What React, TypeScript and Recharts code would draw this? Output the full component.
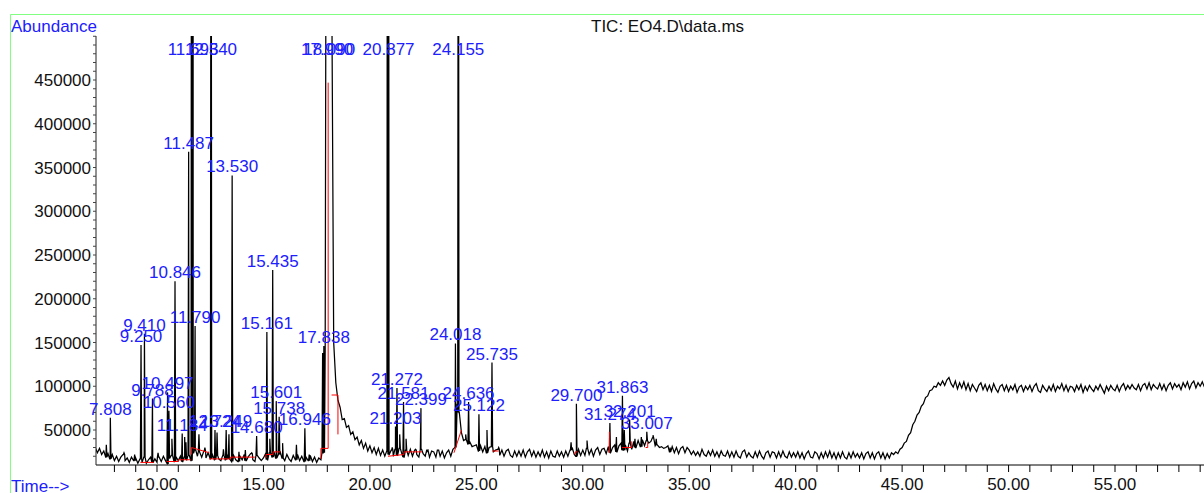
import React from "react";
import { ComposedChart, Line, XAxis, YAxis, ReferenceDot } from "recharts";

const W = 1204;
const H = 493;
const FONT = "'Liberation Sans', Arial, sans-serif";
const BLUE = "#2020ff";

// TIC baseline, thousands of counts, one sample every 0.1 min
const STEP = 0.1;
const base07Start = 7.1;
const base07 = [
  30, 24, 29, 22, 26, 19, 23,
  17, 22, 15, 20, 14, 19, 22, 15, 18, 13, 19, 15,
  18, 12, 17, 13, 19, 12, 16, 19, 13, 17,
  13, 19, 14, 20, 15, 12, 18, 21, 14, 19,
  15, 20, 14, 19, 16, 21, 15, 24, 27, 20,
  25, 19, 26, 18, 24, 17, 22, 16, 21, 17,
  15, 21, 16, 22, 17, 14, 21, 16, 14, 20,
  16, 22, 15, 20, 23, 16, 14, 21, 18, 15,
  18, 23, 16, 24, 19, 25, 18, 22, 24, 18,
  15, 22, 17, 14, 21, 16, 22, 15, 20, 14,
  19, 15, 21, 14, 19, 13, 18, 16, 24, 140,
];
const tail18Start = 18.0;
const tail18 = [
  900, 800, 600, 150, 104, 84, 76, 62, 63, 53,
  55, 45, 48, 39, 42, 33, 38, 29, 35, 26,
  32, 24, 30, 22, 29, 21, 27, 20, 26, 22,
];
const base21Start = 21.0;
const base21 = [
  27, 20, 28, 21, 29, 23, 19, 27, 21, 28,
  20, 27, 22, 19, 28, 23, 20, 27, 19, 26,
  25, 19, 27, 20, 26, 18, 24, 27, 20, 28,
  30, 80, 70, 47, 38, 39, 34, 36, 31, 32,
  33, 26, 32, 25, 31, 24, 30, 31, 25, 27,
  28, 21, 27, 20, 26, 28, 21, 19, 26, 20,
  26, 20, 27, 19, 25, 28, 20, 26, 19, 25,
  20, 27, 19, 25, 18, 26, 20, 19, 26, 20,
  25, 19, 26, 20, 27, 30, 22, 20, 28, 21,
  27, 21, 29, 22, 28, 20, 27, 30, 22, 28,
  29, 23, 31, 24, 30, 33, 25, 32, 35, 27,
  33, 26, 35, 28, 37, 30, 38, 31, 39, 32,
  38, 35, 37, 41, 32, 33, 30, 31, 29, 30,
  32, 25, 31, 24, 30, 23, 29, 31, 24, 30,
  27, 22, 26, 21, 25, 20, 28, 22, 20, 26,
  21, 27, 20, 25, 19, 26, 21, 20, 26, 19,
  25, 19, 26, 20, 18, 25, 27, 19, 24, 20,
  18, 25, 19, 26, 20, 17, 24, 26, 19, 25,
  24, 18, 25, 19, 26, 20, 18, 25, 19, 24,
  19, 25, 18, 24, 17, 23, 26, 19, 18, 25,
  23, 17, 24, 18, 25, 19, 26, 18, 24, 17,
  24, 18, 25, 19, 17, 24, 18, 25, 19, 23,
  18, 24, 17, 23, 25, 18, 24, 17, 23, 25,
  18, 24, 17, 23, 18, 24, 22, 25, 23, 28,
];
const plateau45Start = 45.0;
const plateau45 = [
  30, 35, 37, 44, 47, 56, 60, 67, 70, 77,
  80, 87, 89, 95, 96, 100, 99, 104, 101, 106,
  101, 107, 110, 103, 99, 106, 97, 104, 98, 105,
  96, 103, 95, 102, 98, 94, 101, 104, 96, 102,
  95, 101, 94, 103, 97, 93, 100, 102, 95, 101,
  94, 100, 96, 102, 93, 99, 101, 94, 100, 96,
  101, 94, 100, 103, 95, 93, 101, 97, 94, 100,
  95, 102, 94, 100, 97, 103, 95, 101, 94, 100,
  99, 94, 101, 96, 102, 93, 100, 95, 101, 97,
  94, 100, 96, 102, 97, 92, 100, 95, 101, 97,
  95, 101, 94, 100, 103, 96, 101, 97, 102, 98,
  96, 102, 95, 101, 103, 97, 104, 96, 102, 99,
  97, 103, 96, 102, 95, 101, 104, 97, 103, 99,
  102, 96, 104, 99, 105, 97, 103, 106, 98, 104,
  100, 105, 99,
];

// labelled peaks: retention time (min) and apex (thousands)
const peakTimes = [
  7.808, 9.25, 9.41, 9.788, 10.497, 10.56, 10.846, 11.184, 11.487, 11.693,
  11.79, 12.54, 12.724, 13.249, 13.53, 14.68, 15.161, 15.435, 15.601, 15.738,
  16.946, 17.838, 17.99, 18.09, 20.877, 21.203, 21.272, 21.581, 22.399, 24.018,
  24.155, 24.636, 25.122, 25.735, 29.7, 31.274, 31.863, 32.201, 33.007,
];
const peakHeights = [
  64, 147, 160, 86, 93, 72, 220, 46, 368, 1000,
  169, 1000, 50, 50, 341, 43, 162, 233, 83, 65,
  52, 146, 1200, 1200, 1000, 54, 98, 82, 75, 149,
  1000, 82, 68, 127, 80, 58, 89, 62, 48,
];

// small unlabelled peaks
const minorTimes = [
  7.62, 8.45, 8.95, 10.05, 10.7, 11.3, 11.36, 11.62, 11.97, 12.25,
  12.82, 13.12, 13.38, 13.85, 14.15, 14.45, 15.3, 15.9, 16.55, 17.15,
  17.78, 20.82, 21.05, 21.4, 21.7, 22.15, 22.7, 23.2, 24.5, 25.5,
  26.05, 29.45, 30.2, 31.58, 31.95, 32.45, 32.75, 33.3, 33.45, 34.1,
];
const minorHeights = [
  33, 24, 22, 24, 40, 42, 36, 900, 45, 30,
  47, 28, 45, 25, 27, 24, 40, 35, 33, 22,
  138, 800, 30, 45, 40, 28, 26, 27, 45, 50,
  30, 36, 38, 42, 50, 40, 42, 44, 40, 30,
];

// red integration baselines, [time, thousands]
const redMarks: [number, number][][] = [
  [[9.22, 13], [9.85, 13]],
  [[10.45, 14], [11.0, 14], [11.0, 16], [11.58, 16]],
  [[11.62, 22], [11.62, 30], [12.45, 24]],
  [[12.45, 17], [13.45, 17], [13.45, 19], [14.6, 19]],
  [[15.12, 18], [15.12, 22], [15.45, 22], [15.45, 25], [15.8, 25]],
  [[17.7, 17], [17.7, 29], [18.04, 29], [18.04, 447]],
  [[18.2, 90], [18.5, 90], [18.5, 45]],
  [[20.85, 20], [21.6, 22], [21.6, 25], [22.45, 25]],
  [[23.95, 24], [24.3, 50]],
  [[25.75, 26], [26.05, 26]],
  [[29.65, 22], [29.65, 25], [29.75, 25]],
  [[31.25, 24], [31.25, 48]],
  [[31.85, 30], [32.3, 30], [32.3, 37]],
  [[32.95, 30], [33.05, 30], [33.05, 36]],
];

const xTicks = [
  8, 9, 10, 11, 12, 13, 14, 15, 16, 17, 18, 19, 20, 21, 22, 23, 24, 25, 26, 27,
  28, 29, 30, 31, 32, 33, 34, 35, 36, 37, 38, 39, 40, 41, 42, 43, 44, 45, 46, 47,
  48, 49, 50, 51, 52, 53, 54, 55, 56, 57, 58, 59,
];
const xLabelled = [10, 15, 20, 25, 30, 35, 40, 45, 50, 55];
const yTicks = [
  20000, 30000, 40000, 50000, 60000, 70000, 80000, 90000, 100000, 110000,
  120000, 130000, 140000, 150000, 160000, 170000, 180000, 190000, 200000, 210000,
  220000, 230000, 240000, 250000, 260000, 270000, 280000, 290000, 300000, 310000,
  320000, 330000, 340000, 350000, 360000, 370000, 380000, 390000, 400000, 410000,
  420000, 430000, 440000, 450000, 460000, 470000, 480000, 490000, 500000,
];
const yLabelled = [50000, 100000, 150000, 200000, 250000, 300000, 350000, 400000, 450000];

const X_DOMAIN: [number, number] = [7.135, 59.18];
const Y_DOMAIN: [number, number] = [10000, 500300];
const HALF = 0.03;

type Pt = { t: number; v: number | null };

const segments: [number, number[]][] = [
  [base07Start, base07],
  [tail18Start, tail18],
  [base21Start, base21],
  [plateau45Start, plateau45],
];

const samples: Pt[] = [];
segments.forEach(([start, vals]) =>
  vals.forEach((v, i) => samples.push({ t: Math.round((start + i * STEP) * 100) / 100, v: v * 1000 }))
);

const nearestBase = (t: number) => {
  let best = samples[0];
  for (const s of samples) if (Math.abs(s.t - t) < Math.abs(best.t - t)) best = s;
  return best.v as number;
};

const spikes: Pt[] = [];
const addPeak = (t: number, h: number) => {
  const b = nearestBase(t);
  spikes.push({ t: t - HALF, v: b }, { t, v: h * 1000 }, { t: t + HALF, v: b });
};
peakTimes.forEach((t, i) => addPeak(t, peakHeights[i]));
minorTimes.forEach((t, i) => addPeak(t, minorHeights[i]));

const trace = [...samples, ...spikes].sort((a, b) => a.t - b.t);

const redData: Pt[] = [];
redMarks.forEach((seg) => {
  seg.forEach(([t, v]) => redData.push({ t, v: v * 1000 }));
  redData.push({ t: seg[seg.length - 1][0], v: null });
});

// label sits just above the apex; off-scale peaks get it at the top
const labelData = peakTimes.map((t, i) => ({
  t,
  v: Math.min(peakHeights[i], 475) * 1000,
  name: t.toFixed(3),
}));

const tickStyle = { fill: "#111", fontSize: 17, fontFamily: FONT };

export default function App() {
  return (
    <div style={{ position: "absolute", left: 0, top: 0, width: W, height: H, background: "#fff", overflow: "hidden" }}>
      <ComposedChart width={W} height={H} data={trace} margin={{ top: 36, right: 0, bottom: 0, left: 0 }}>
        <XAxis
          dataKey="t"
          type="number"
          domain={X_DOMAIN}
          allowDataOverflow
          ticks={xTicks}
          interval={0}
          tickFormatter={(t: number) => (xLabelled.includes(t) ? t.toFixed(2) : "")}
          tickSize={7}
          tickMargin={6}
          height={28}
          axisLine={{ stroke: "#000" }}
          tickLine={{ stroke: "#000" }}
          tick={tickStyle}
        />
        <YAxis
          type="number"
          domain={Y_DOMAIN}
          allowDataOverflow
          ticks={yTicks}
          interval={0}
          tickFormatter={(v: number) => (yLabelled.includes(v) ? String(v) : "")}
          tickSize={3}
          tickMargin={2}
          width={96}
          axisLine={{ stroke: "#222" }}
          tickLine={{ stroke: "#444" }}
          tick={tickStyle}
        />
        <Line
          dataKey="v"
          type="linear"
          stroke="#000"
          strokeWidth={1.25}
          dot={false}
          activeDot={false}
          isAnimationActive={false}
        />
        <Line
          data={redData}
          dataKey="v"
          type="linear"
          stroke="#ff0000"
          strokeWidth={1}
          dot={false}
          activeDot={false}
          isAnimationActive={false}
        />
        {labelData.map((d) => (
          <ReferenceDot
            key={d.name}
            x={d.t}
            y={d.v}
            r={0}
            ifOverflow="visible"
            shape={(p: any) => (
              <text x={p.cx} y={p.cy - 3} textAnchor="middle" fill={BLUE} fontSize={17} fontFamily={FONT}>
                {d.name}
              </text>
            )}
          />
        ))}
      </ComposedChart>
      <svg width={W} height={H} style={{ position: "absolute", left: 0, top: 0, pointerEvents: "none" }}>
        <line x1={10.5} y1={14.5} x2={W} y2={14.5} stroke="#80ff80" strokeWidth={1} />
        <line x1={10.5} y1={14.5} x2={10.5} y2={H} stroke="#80ff80" strokeWidth={1} />
        <text x={11} y={32} fill={BLUE} fontSize={17} fontFamily={FONT}>Abundance</text>
        <text x={591} y={32} fill="#111" fontSize={17} fontFamily={FONT}>TIC: EO4.D\data.ms</text>
        <text x={11} y={492} fill={BLUE} fontSize={17} fontFamily={FONT}>Time--&gt;</text>
      </svg>
    </div>
  );
}
